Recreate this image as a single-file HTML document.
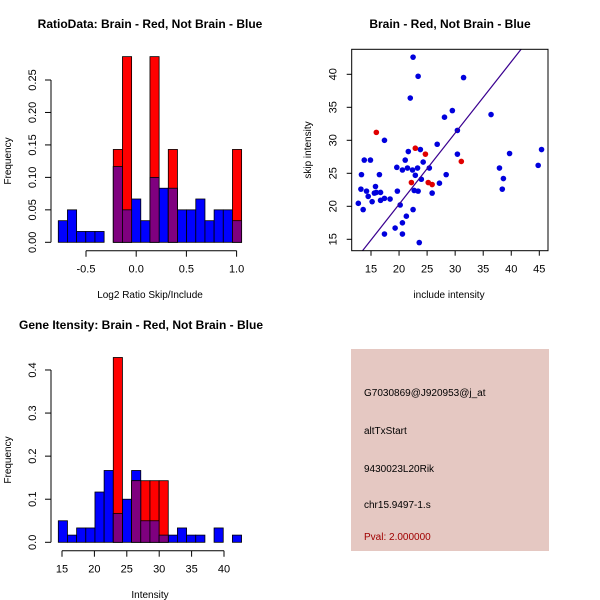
<!DOCTYPE html>
<html><head><meta charset="utf-8"><style>
body{margin:0;background:#fff}
svg{display:block;font-family:"Liberation Sans",sans-serif}
</style></head><body>
<svg id="s" width="600" height="600" viewBox="0 0 600 600">
<rect width="600" height="600" fill="#fff"/>
<text x="150" y="28" text-anchor="middle" font-size="12" font-weight="bold">RatioData: Brain - Red, Not Brain - Blue</text>
<text x="450" y="28" text-anchor="middle" font-size="12" font-weight="bold">Brain - Red, Not Brain - Blue</text>
<text x="141" y="329" text-anchor="middle" font-size="12" font-weight="bold">Gene Itensity: Brain - Red, Not Brain - Blue</text>
<text x="150" y="298" text-anchor="middle" font-size="10">Log2 Ratio Skip/Include</text>
<text transform="translate(11,161) rotate(-90)" text-anchor="middle" font-size="10">Frequency</text>
<text x="449" y="298" text-anchor="middle" font-size="10">include intensity</text>
<text transform="translate(311,150) rotate(-90)" text-anchor="middle" font-size="10">skip intensity</text>
<text x="150" y="598" text-anchor="middle" font-size="10">Intensity</text>
<text transform="translate(11,460) rotate(-90)" text-anchor="middle" font-size="10">Frequency</text>
<g>
<rect x="351" y="349" width="198" height="202" fill="#e5c8c2"/>
<text x="364" y="396" font-size="10">G7030869@J920953@j_at</text>
<text x="364" y="434" font-size="10">altTxStart</text>
<text x="364" y="472" font-size="10">9430023L20Rik</text>
<text x="364" y="508" font-size="10">chr15.9497-1.s</text>
<text x="364" y="540" font-size="10" fill="#a00000">Pval: 2.000000</text>
</g>
</svg>
<script>
// ratio histogram data
const ratioBlue=[0.0333,0.05,0.0167,0.0167,0.0167,0,0.1167,0.05,0.0667,0.0333,0.1,0.0833,0.0833,0.05,0.05,0.0667,0.0333,0.05,0.05,0.0333];
const ratioRed=[0,0,0,0,0,0,0.143,0.286,0,0,0.286,0,0.143,0,0,0,0,0,0,0.143];
const ratioXTicks=[-0.5,0.0,0.5,1.0];
const ratioYTicks=[0,0.05,0.10,0.15,0.20,0.25];
// intensity histogram data
const intBlue=[0.05,0.0167,0.0333,0.0333,0.1167,0.1667,0.0667,0.1,0.1667,0.05,0.05,0.0167,0.0167,0.0333,0.0167,0.0167,0,0.0333,0,0.0167];
const intRed=[0,0,0,0,0,0,0.429,0,0.143,0.143,0.143,0.143,0,0,0,0,0,0,0,0];
const intXTicks=[15,20,25,30,35,40];
const intYTicks=[0,0.1,0.2,0.3,0.4];
// scatter data
const blueX=[12.74,13.2,13.3,13.6,13.8,14.2,14.5,14.9,15.2,15.6,15.8,15.95,16.5,16.7,16.7,17.4,17.4,17.4,18.4,19.3,19.6,19.7,20.2,20.6,20.6,20.6,21.1,21.3,21.5,21.65,22.0,22.4,22.5,22.5,22.7,22.9,23.3,23.4,23.4,23.8,23.97,24.3,23.6,25.4,25.9,26.8,27.2,28.1,28.4,29.5,30.4,30.4,31.5,36.4,37.9,38.4,38.6,39.7,44.8,45.4];
const blueY=[20.45,22.6,24.8,19.5,27.0,22.3,21.5,27.0,20.7,22.0,23.0,22.1,24.8,22.1,20.9,30.0,21.2,15.8,21.1,16.7,25.9,22.3,20.2,25.5,17.5,15.8,27.0,18.5,25.8,28.3,36.4,25.5,42.6,19.5,22.4,24.7,25.8,22.3,39.7,28.6,24.1,26.7,14.5,25.8,22.0,29.4,23.5,33.5,24.8,34.5,31.5,27.9,39.5,33.9,25.8,22.6,24.2,28.0,26.2,28.6];
const redX=[15.95,22.9,22.2,24.7,25.2,25.9,31.1];
const redY=[31.2,28.8,23.6,27.9,23.6,23.3,26.8];
const scXTicks=[15,20,25,30,35,40,45];
const scYTicks=[15,20,25,30,35,40];
const fitLine=[1.08,-1.3];

const svg=document.getElementById('s');
const NS='http://www.w3.org/2000/svg';
function mk(tag,attrs,parent){const e=document.createElementNS(NS,tag);for(const k in attrs)e.setAttribute(k,attrs[k]);(parent||svg).appendChild(e);return e;}

function hist(name,blue,red,x0,bw,xs,ys,xTicks,yTicks,yAxisX,xAxisY,xLab,yLab){
  const g=mk('g',{});
  
  
  const draw=(vals,col,nm)=>vals.forEach((v,i)=>{if(v<=0)return;
    const a=xs(x0+i*bw),b=xs(x0+(i+1)*bw);
    const r=mk('rect',{x:a,y:ys(v),width:b-a,height:ys(0)-ys(v),fill:col,stroke:'#000','stroke-width':0.8},g);
    
    });
  draw(blue,'#0000ff','blue-bar');
  draw(red,'#ff0000','red-bar');
  draw(blue.map((v,i)=>Math.min(v,red[i])),'#7f007f','overlap-bar');
  const xl=mk('line',{x1:xs(xTicks[0]),x2:xs(xTicks[xTicks.length-1]),y1:xAxisY,y2:xAxisY,stroke:'#000'},g);
  
  
  xTicks.forEach(t=>{mk('line',{x1:xs(t),x2:xs(t),y1:xAxisY,y2:xAxisY+6,stroke:'#000'},g);
    const tx=mk('text',{x:xs(t),y:xAxisY+22,'text-anchor':'middle','font-size':11},g);tx.textContent=xLab(t);
    
    });
  const yl=mk('line',{x1:yAxisX,x2:yAxisX,y1:ys(yTicks[0]),y2:ys(yTicks[yTicks.length-1]),stroke:'#000'},g);
  
  
  yTicks.forEach(t=>{mk('line',{x1:yAxisX-6,x2:yAxisX,y1:ys(t),y2:ys(t),stroke:'#000'},g);
    const tx=mk('text',{transform:`translate(${yAxisX-15},${ys(t)}) rotate(-90)`,'text-anchor':'middle','font-size':11},g);tx.textContent=yLab(t);
    
    });
}
hist('ratio-histogram',ratioBlue,ratioRed,-0.776,0.0913,v=>136.2+v*100.4,v=>242.3-v/0.05*32.46,ratioXTicks,ratioYTicks,51,250.7,t=>t.toFixed(1),t=>t.toFixed(2));
hist('intensity-histogram',intBlue,intRed,14.43,1.414,v=>62+(v-15)*6.48,v=>542.3-v/0.1*43.08,intXTicks,intYTicks,51,550.7,t=>String(t),t=>t.toFixed(1));

// scatter
const sx=v=>371+(v-15)*5.61, sy=v=>239.3-(v-15)*6.6;
const L=351.7,R=548,T=49.3,B=250.7;
const sg=mk('g',{});


mk('clipPath',{id:'cp'},sg);
mk('rect',{x:L,y:T,width:R-L,height:B-T},document.getElementById('cp'));
blueX.forEach((x,i)=>{const c=mk('circle',{cx:sx(x),cy:sy(blueY[i]),r:2.8,fill:'#0000dd'},sg);
  
  });
redX.forEach((x,i)=>{const c=mk('circle',{cx:sx(x),cy:sy(redY[i]),r:2.8,fill:'#e00000'},sg);
  
  });
const fl=mk('line',{x1:sx(10),y1:sy(fitLine[0]*10+fitLine[1]),x2:sx(50),y2:sy(fitLine[0]*50+fitLine[1]),stroke:'#3a0090','stroke-width':1.2,'clip-path':'url(#cp)'},sg);


const box=mk('rect',{x:L,y:T,width:R-L,height:B-T,fill:'none',stroke:'#000'},sg);


scXTicks.forEach(t=>{mk('line',{x1:sx(t),x2:sx(t),y1:B,y2:B+5,stroke:'#000'},sg);
  const tx=mk('text',{x:sx(t),y:B+22,'text-anchor':'middle','font-size':11},sg);tx.textContent=t;
  
  });
scYTicks.forEach(t=>{mk('line',{x1:L-5,x2:L,y1:sy(t),y2:sy(t),stroke:'#000'},sg);
  const tx=mk('text',{transform:`translate(${L-15},${sy(t)}) rotate(-90)`,'text-anchor':'middle','font-size':11},sg);tx.textContent=t;
  
  });
</script>
</body></html>
